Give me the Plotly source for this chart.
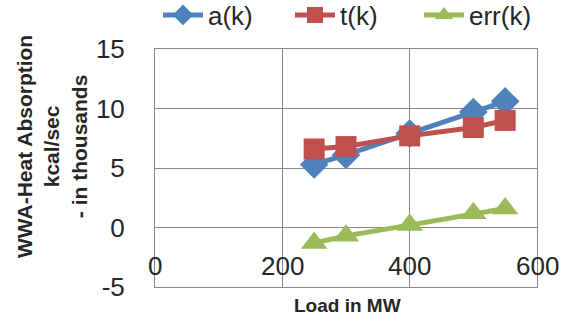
import plotly.graph_objects as go

# Load (MW) and heat absorption values (kcal/sec, thousands)
load_mw = [250, 300, 400, 500, 550]
a_k = [5.3, 6.1, 7.9, 9.7, 10.6]
t_k = [6.6, 6.8, 7.7, 8.4, 9.0]
err_k = [-1.3, -0.7, 0.2, 1.2, 1.6]

x_ticks = [0, 200, 400, 600]
y_ticks = [-5, 0, 5, 10, 15]
y_tick_text = ["-5", "0", "5", "10", "15"]

FONT = "Liberation Sans"
TXT = "#262626"
GRID = "#878787"

fig = go.Figure()
series = [
    ("a(k)", a_k, "#4F81BD", "diamond", 22, "legend", 158),
    ("t(k)", t_k, "#C0504D", "square", 21, "legend2", 290),
    ("err(k)", err_k, "#9BBB59", "triangle-up", 23, "legend3", 419),
]
legends = {}
for name, vals, col, sym, size, leg, left_px in series:
    fig.add_trace(go.Scatter(
        x=load_mw, y=vals, name=name, mode="lines+markers", legend=leg,
        line=dict(color=col, width=5),
        marker=dict(symbol=sym, size=size, color=col, line=dict(width=0)),
    ))
    # one single-entry legend per series, laid out in a row along the top
    legends[leg] = dict(orientation="h", x=left_px / 563, y=1 - 15 / 322,
                        xref="container", yref="container",
                        xanchor="left", yanchor="middle",
                        font=dict(family=FONT, size=26, color=TXT), itemwidth=40,
                        bgcolor="rgba(0,0,0,0)")

# x tick labels sit just above the bottom edge, inside the plot area
for xv in x_ticks:
    fig.add_annotation(x=xv, y=-3.2, xref="x", yref="y", text=str(xv),
                       showarrow=False, font=dict(family=FONT, size=26, color=TXT))

fig.add_annotation(x=(52 - 155) / 382, y=(287 - 147) / 238,
                   xref="paper", yref="paper", xanchor="center", yanchor="middle",
                   text="<b>WWA-Heat Absorption<br>kcal/sec<br>- in thousands</b>",
                   textangle=-90, showarrow=False,
                   font=dict(family=FONT, size=21, color=TXT))
fig.add_annotation(x=0.503, y=-0.076, xref="paper", yref="paper",
                   xanchor="center", yanchor="middle",
                   text="<b>Load in MW</b>", showarrow=False,
                   font=dict(family=FONT, size=19, color=TXT))

fig.update_layout(
    width=563, height=322,
    margin=dict(l=155, r=26, t=49, b=35, autoexpand=False),
    paper_bgcolor="white", plot_bgcolor="white",
    font=dict(family=FONT, color=TXT),
    showlegend=True,
    xaxis=dict(range=[0, 600], tickvals=x_ticks, showticklabels=False,
               showgrid=True, gridcolor=GRID, gridwidth=1, zeroline=False,
               showline=True, linecolor=GRID, mirror=True),
    yaxis=dict(range=[-5, 15], tickvals=y_ticks, ticktext=y_tick_text,
               showgrid=True, gridcolor=GRID,
               gridwidth=1, zeroline=False, showline=True, linecolor=GRID,
               mirror=True, ticks="", ticklabelstandoff=24,
               tickfont=dict(family=FONT, size=26, color=TXT)),
    **legends,
)

fig.write_html("out.html")
